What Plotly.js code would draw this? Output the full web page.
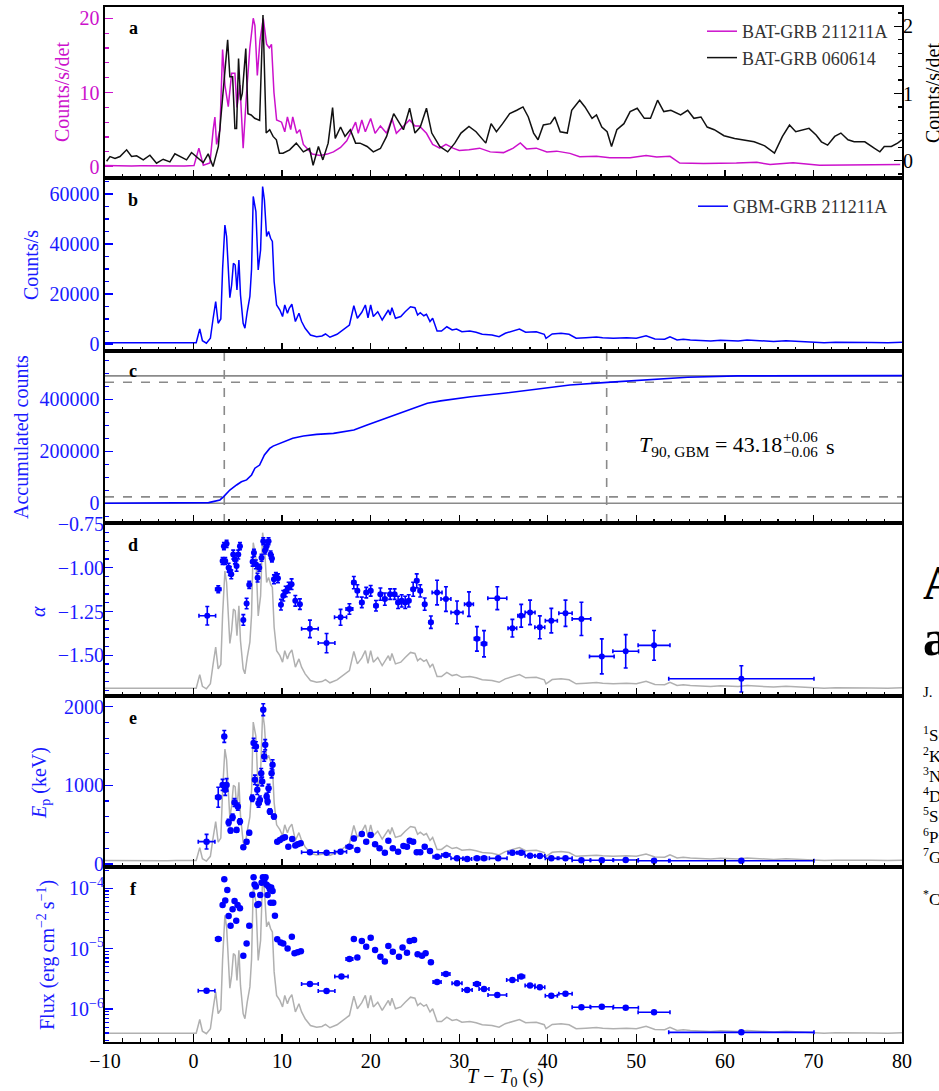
<!DOCTYPE html>
<html>
<head>
<meta charset="utf-8">
<script src="https://cdn.plot.ly/plotly-3.0.1.min.js"></script>
<style>
  html, body { margin: 0; padding: 0; background: #fff; }
  #chart { width: 939px; height: 1091px; }
</style>
</head>
<body>
<div id="chart"></div>
<script>
// ---------- panel a: Swift/BAT light curves ----------
const tBat211 = [-10,-9,-8,-7,-6,-5,-4,-3,-2,-1,0.05,0.6,1.1,1.85,2.22,2.41,2.6,2.98,3.28,3.54,3.92,4.3,4.67,4.9,5.24,5.6,5.99,6.36,6.74,6.93,7.2,7.5,7.87,8.25,8.55,8.8,9.08,9.38,9.94,10.3,10.6,10.97,11.2,11.65,12.0,12.4,12.8,13.4,14.3,15.1,15.8,16.6,17.3,17.9,18.3,18.6,19.0,19.4,20.0,20.5,21.1,21.8,22.4,22.9,23.7,24.4,25.0,25.5,26.3,27.0,27.8,28.5,29.3,30.0,31.1,32.3,33.5,35.0,36.1,36.9,37.6,38.7,39.9,41.0,42.5,43.6,45.5,47.0,49.3,51.1,52.3,53.8,54.9,57.6,61.3,63.6,65.1,67.7,70.7,74.5,79.8];
const bat211 = [0.15,0.1,0.15,0.1,0.12,0.1,0.15,0.1,0.12,0.1,0.15,2.5,0.2,0.5,5,6.7,3,5,15.8,11,8.1,12.6,12.6,8,11,2.5,10,16,20,19,12.3,17,20,16.5,16,16.5,10,6.3,6,4.7,6.7,5,6.7,4.5,5,3,2.5,1.7,1.5,1.7,2,2.6,3.5,5,6,4.5,6.3,4.7,6.5,4.5,5.5,4.5,6.5,4.5,5.5,6.3,5.5,5.5,4.5,3,2.5,3,2.5,2.2,2.3,2.5,2.0,1.9,2.5,3.2,2.4,2.5,2.0,2.1,1.8,1.35,1.4,1.2,1.2,1.5,1.3,1.4,0.5,0.45,0.5,0.6,0.3,0.55,0.2,0.2,0.3];

const tBat060 = [-9.82,-9.44,-8.87,-8.31,-7.56,-7.0,-6.43,-5.68,-4.93,-4.18,-3.43,-2.67,-2.11,-1.55,-0.79,-0.23,0.33,1.09,1.65,2.2,2.8,3.36,3.85,4.1,4.41,4.67,4.86,5.08,5.31,5.5,5.9,6.14,6.5,6.9,7.46,7.84,8.03,8.2,8.6,8.98,9.35,9.7,10.1,10.85,11.6,12.4,13.1,13.5,14.1,14.6,15.2,15.7,16.0,16.6,17.1,17.7,18.3,18.8,19.6,20.3,21.1,21.8,22.6,23.1,23.7,24.4,25.0,25.6,26.3,26.9,27.8,28.7,29.5,30.2,31.1,31.9,32.6,33.0,33.6,34.2,34.9,35.7,36.5,37.2,37.8,38.4,38.9,39.5,40.3,40.8,41.4,42.2,42.7,43.6,44.2,45.0,45.5,46.1,46.7,47.2,47.8,48.6,49.3,50.1,50.9,51.6,52.4,53.1,53.9,55.0,55.8,56.5,57.3,58.0,58.8,59.9,61.1,62.2,63.3,64.5,65.6,66.5,67.3,68.0,68.8,69.5,70.3,70.9,71.6,72.4,73.1,73.9,74.6,75.8,76.9,77.5,78.0,78.8,79.5,80.0];
const bat060 = [-0.01,0.06,0.03,0.06,0.16,0.06,0.07,0.01,0.08,-0.04,0.02,-0.02,0.10,0.06,0.01,0.12,0.06,-0.03,0.10,-0.09,0.21,1.05,1.80,1.25,1.25,0.48,0.48,1.52,0.90,1.0,1.67,0.70,0.68,0.63,0.60,2.17,1.2,0.41,0.46,0.36,0.31,0.11,0.11,0.16,0.26,0.13,0.18,-0.07,0.21,0.01,0.26,0.79,0.33,0.50,0.36,0.46,0.26,0.26,0.21,0.13,0.18,0.36,0.70,0.60,0.46,0.78,0.41,0.50,0.78,0.41,0.21,0.13,0.26,0.41,0.51,0.43,0.33,0.26,0.55,0.43,0.55,0.70,0.75,0.80,0.65,0.41,0.31,0.53,0.55,0.65,0.43,0.41,0.75,0.90,0.80,0.63,0.68,0.50,0.43,0.21,0.46,0.55,0.73,0.78,0.63,0.63,0.90,0.73,0.75,0.68,0.75,0.63,0.65,0.50,0.46,0.37,0.33,0.31,0.28,0.22,0.11,0.36,0.53,0.43,0.46,0.48,0.38,0.28,0.23,0.36,0.41,0.31,0.28,0.28,0.18,0.13,0.21,0.21,0.26,0.31];

// ---------- panel b: Fermi/GBM light curve (also the grey reference curve in d-f) ----------
const tGbm = [-10,-9,-8,-7,-6,-5,-4,-3,-2,-1,0,0.3,0.7,1.0,1.45,1.9,2.2,2.5,2.78,3.08,3.28,3.54,3.73,3.92,4.1,4.3,4.5,4.7,4.9,5.12,5.3,5.6,5.8,6.06,6.36,6.55,6.74,7.04,7.3,7.57,7.8,8.0,8.25,8.47,8.7,8.9,9.1,9.38,9.75,10.05,10.3,10.6,10.8,11.1,11.5,11.9,12.2,12.6,13.2,13.9,14.5,14.9,15.4,16.2,16.9,17.6,18.1,18.5,19.0,19.4,19.7,20.0,20.3,20.8,21.3,22.0,22.2,22.4,22.8,23.4,23.9,24.5,25.0,25.3,25.6,26.0,26.3,26.7,27.0,27.5,28.0,28.6,29.2,29.7,30.3,31.2,31.9,32.6,33.7,34.5,35.2,36.0,36.8,37.5,38.7,39.6,39.8,40.5,41.5,42.4,43.2,44.3,45.5,46.2,47.4,48.9,50.0,51.1,52.1,53.2,53.8,54.6,55.3,56.1,57.2,58.4,59.5,60.6,61.5,62.5,63.5,64.4,65.5,66.9,68.0,69.0,70.0,71.2,72.5,74.6,76.5,78.4,80.0];
const gbmRate = [500,450,550,480,520,470,530,490,510,480,500,520,6000,1300,300,2300,10000,17000,8300,10000,30000,47600,43000,27600,18500,23600,32300,31600,21600,33600,19600,8300,6300,12900,19000,30000,59000,53000,29600,37600,63000,57600,43000,45000,42300,41000,25000,15600,13600,11000,15600,12300,14300,15900,9000,12300,9000,6300,3600,2900,3200,4000,2700,3900,5600,7600,15300,10300,12700,15600,10500,15600,11000,12900,9600,13600,11600,14500,10300,11000,12900,14900,14500,11600,12500,11300,11900,9000,10300,5200,5200,6900,5600,6000,4900,5200,4700,3900,3600,2900,4300,5200,6000,4700,4900,3900,2300,4000,4300,3900,2300,2500,2800,2500,2300,2500,2300,3300,2000,1900,2900,1600,1900,1600,1400,1200,1500,1300,1200,1600,1400,1200,1000,1300,1100,900,800,500,700,500,600,500,700];

// ---------- panel c: accumulated GBM counts and T90 ----------
const tAcc = [-10,0,1,1.7,2.2,2.98,3.4,4.1,4.86,5.4,5.99,6.55,6.93,7.46,8.0,8.6,8.98,9.9,11.2,12.4,13.9,15.8,17.3,18.1,19.6,21.5,23.4,25.3,26.4,27.9,30.2,31.3,35.0,38.8,42.5,46.7,52.0,55.8,61.4,80];
const accCounts = [0,800,2000,2500,6400,12800,25600,51000,70500,83000,90000,109000,135000,147000,186000,211000,220000,233000,250000,259000,265000,269000,276000,282000,301000,324000,346000,372000,385000,394000,404000,410000,423000,438000,455000,465000,477000,485000,490000,491000];
const accTotal = 490000;
const t05 = 3.47;       // start of the T90 interval (s)
const t90 = 43.18;      // T90 duration (s)
const t90Err = 0.06;

// ---------- panel d: low-energy photon index ----------
const tAlpha = [1.55,2.79,3.28,3.43,3.58,3.73,3.96,4.10,4.26,4.48,4.67,4.86,5.05,5.24,5.62,5.99,6.29,6.67,6.82,7.04,7.23,7.42,7.68,7.87,8.06,8.25,8.47,8.70,8.85,9.08,9.30,9.53,9.87,10.13,10.40,10.74,11.07,11.49,12.01,13.14,15.02,16.60,17.60,18.10,18.50,19.00,19.50,20.00,20.60,21.10,21.60,22.20,22.70,23.10,23.50,23.90,24.30,24.80,25.20,25.60,26.10,26.80,27.50,28.50,29.75,31.10,32.00,32.80,34.30,36.00,37.00,38.00,39.10,40.40,42.00,43.80,46.10,48.80,52.00,61.86];
const tAlphaErr = [0.94,0.30,0.1,0.1,0.1,0.1,0.1,0.1,0.1,0.1,0.1,0.1,0.1,0.1,0.1,0.1,0.1,0.1,0.1,0.1,0.1,0.1,0.1,0.1,0.1,0.1,0.1,0.1,0.1,0.1,0.1,0.1,0.1,0.1,0.1,0.1,0.1,0.1,0.1,0.94,0.94,0.68,0.38,0.2,0.2,0.2,0.2,0.2,0.2,0.2,0.2,0.2,0.2,0.2,0.2,0.2,0.2,0.2,0.2,0.2,0.2,0.2,0.56,0.56,0.68,0.5,0.3,0.3,1.07,0.49,0.38,0.56,0.56,0.68,0.75,1.05,1.39,1.45,1.8,8.2];
const alpha = [-1.274,-1.123,-0.962,-0.877,-0.962,-0.864,-1.000,-1.019,-1.038,-0.925,-0.953,-0.990,-0.925,-0.877,-1.298,-1.204,-1.098,-0.966,-0.915,-0.981,-1.057,-1.000,-0.943,-0.849,-0.902,-0.877,-0.849,-0.925,-0.947,-1.066,-1.047,-1.060,-1.211,-1.160,-1.136,-1.113,-1.094,-1.189,-1.208,-1.349,-1.430,-1.283,-1.236,-1.085,-1.132,-1.198,-1.142,-1.132,-1.217,-1.151,-1.179,-1.151,-1.151,-1.198,-1.189,-1.198,-1.189,-1.123,-1.075,-1.132,-1.208,-1.311,-1.142,-1.179,-1.255,-1.208,-1.406,-1.434,-1.174,-1.345,-1.274,-1.255,-1.340,-1.302,-1.260,-1.292,-1.506,-1.477,-1.443,-1.634];
const alphaErr = [0.053,0.02,0.02,0.02,0.02,0.02,0.025,0.025,0.025,0.025,0.025,0.03,0.025,0.02,0.03,0.03,0.02,0.025,0.02,0.025,0.025,0.02,0.02,0.02,0.02,0.02,0.02,0.02,0.02,0.025,0.02,0.025,0.03,0.03,0.03,0.03,0.03,0.03,0.03,0.05,0.055,0.045,0.03,0.035,0.035,0.03,0.03,0.03,0.03,0.035,0.035,0.03,0.03,0.035,0.035,0.035,0.035,0.04,0.04,0.035,0.035,0.035,0.07,0.07,0.065,0.07,0.07,0.075,0.065,0.05,0.065,0.07,0.065,0.07,0.075,0.095,0.1,0.095,0.085,0.075];

// ---------- panel e: peak energy ----------
const tEp = [1.47,2.79,3.28,3.47,3.58,3.73,3.96,4.18,4.41,4.63,4.86,5.00,5.24,5.62,5.99,6.29,6.63,6.78,6.93,7.04,7.19,7.34,7.49,7.64,7.75,7.87,7.98,8.09,8.25,8.36,8.47,8.62,8.81,8.92,9.08,9.45,9.75,10.05,10.32,10.70,11.14,11.49,11.75,12.09,13.14,15.02,16.60,17.60,18.10,18.50,19.00,19.50,20.00,20.50,21.00,21.60,22.00,22.50,23.10,23.70,24.10,24.40,24.80,25.20,25.60,26.10,26.70,27.50,28.50,29.75,30.90,32.00,32.80,34.40,36.00,37.00,38.00,39.10,40.40,42.00,43.80,46.10,48.80,52.00,61.86];
const tEpErr = [0.94,0.30,0.1,0.1,0.1,0.1,0.1,0.1,0.1,0.1,0.1,0.1,0.1,0.1,0.1,0.1,0.1,0.1,0.1,0.1,0.1,0.1,0.1,0.1,0.1,0.1,0.1,0.1,0.1,0.1,0.1,0.1,0.1,0.1,0.1,0.1,0.1,0.1,0.1,0.1,0.1,0.1,0.1,0.1,0.94,0.94,0.68,0.38,0.2,0.2,0.2,0.2,0.2,0.2,0.2,0.2,0.2,0.2,0.2,0.2,0.2,0.2,0.2,0.2,0.2,0.2,0.2,0.45,0.45,0.68,0.5,0.3,0.3,1.0,0.49,0.38,0.56,0.56,0.68,0.75,1.05,1.32,1.43,1.8,8.2];
const ep = [284,849,1006,1622,943,1006,527,425,594,781,433,730,539,212,284,399,836,1537,1070,1495,943,773,815,1155,1049,1962,1367,1516,858,794,964,667,1155,1261,603,284,306,327,340,221,318,234,250,263,149,144,157,221,323,178,382,284,369,250,200,144,297,200,157,229,221,297,284,149,149,221,166,93,115,72,64,72,72,72,144,144,106,102,72,72,47,47,51,42,42];
const epErr = [93,127,70,75,70,80,40,30,40,50,30,45,35,20,25,25,40,60,60,60,60,50,50,60,55,75,60,65,40,40,50,35,60,65,30,20,20,20,20,15,20,15,15,15,15,15,15,15,25,12,20,15,20,15,12,12,15,12,12,12,12,15,15,12,12,12,12,10,10,10,10,10,10,10,12,12,10,10,10,10,8,8,8,8,8];

// ---------- panel f: energy flux ----------
const tFlux = [1.47,2.79,3.28,3.47,3.58,3.81,3.96,4.18,4.41,4.63,4.82,4.97,5.24,5.62,5.99,6.29,6.63,6.78,6.89,7.04,7.19,7.34,7.53,7.68,7.83,7.98,8.13,8.25,8.36,8.47,8.62,8.77,8.92,8.70,9.00,9.19,9.45,9.83,10.13,10.62,11.10,11.40,11.75,12.12,13.14,15.02,16.70,17.60,18.10,18.50,19.00,19.50,20.00,20.50,21.10,21.60,22.00,22.50,23.20,23.60,24.10,24.40,24.90,25.30,25.80,26.20,26.80,27.50,28.50,29.75,30.90,32.00,32.80,34.30,36.00,37.00,38.00,39.10,40.40,42.00,43.80,46.10,48.80,52.00,61.86];
const tFluxErr = [0.94,0.30,0.1,0.1,0.1,0.1,0.1,0.1,0.1,0.1,0.1,0.1,0.1,0.1,0.1,0.1,0.1,0.1,0.1,0.1,0.1,0.1,0.1,0.1,0.1,0.1,0.1,0.1,0.1,0.1,0.1,0.1,0.1,0.1,0.1,0.1,0.1,0.1,0.1,0.1,0.1,0.1,0.1,0.1,0.94,0.94,0.75,0.38,0.2,0.2,0.2,0.2,0.2,0.2,0.2,0.2,0.2,0.2,0.2,0.2,0.2,0.2,0.2,0.2,0.2,0.2,0.2,0.45,0.45,0.56,0.56,0.38,0.56,1.05,0.64,0.38,0.56,0.56,0.68,0.75,1.05,1.32,1.43,1.8,8.2];
const flux = [2.01e-6,1.45e-5,5.30e-5,1.41e-4,6.25e-5,9.38e-5,3.48e-5,2.40e-5,4.49e-5,6.17e-5,2.91e-5,5.30e-5,4.67e-5,7.66e-6,1.22e-5,2.40e-5,7.85e-5,1.52e-4,1.16e-4,1.07e-4,5.30e-5,5.50e-5,7.76e-5,1.24e-4,1.52e-4,1.34e-4,1.52e-4,1.14e-4,7.76e-5,1.07e-4,9.62e-5,1.03e-4,9.04e-5,5.78e-5,5.78e-5,3.52e-5,1.43e-5,1.26e-5,1.22e-5,1.01e-5,1.58e-5,8.38e-6,8.69e-6,9.03e-6,2.59e-6,1.99e-6,3.44e-6,6.75e-6,1.45e-5,7.10e-6,1.34e-5,1.08e-5,1.52e-5,9.51e-6,7.36e-6,6.10e-6,1.11e-5,8.91e-6,7.36e-6,1.04e-5,8.59e-6,1.34e-5,1.39e-5,8.05e-6,7.66e-6,8.38e-6,5.93e-6,2.81e-6,3.80e-6,2.66e-6,2.07e-6,2.59e-6,2.14e-6,1.71e-6,3.03e-6,3.44e-6,2.44e-6,2.29e-6,1.66e-6,1.79e-6,1.07e-6,1.09e-6,1.05e-6,8.81e-7,4.10e-7];

// log-axis ticks for the flux panel
const fluxTickVals = [1e-6, 1e-5, 1e-4];
const fluxTickText = ['10<sup>\u22126</sup>', '10<sup>\u22125</sup>', '10<sup>\u22124</sup>'];
const fluxMinorVals = [3e-7,4e-7,5e-7,6e-7,7e-7,8e-7,9e-7,2e-6,3e-6,4e-6,5e-6,6e-6,7e-6,8e-6,9e-6,2e-5,3e-5,4e-5,5e-5,6e-5,7e-5,8e-5,9e-5,2e-4];

// ---------- styling ----------
const SERIF = 'Liberation Serif, Times New Roman, serif';
const MAG = '#cc11cc';
const BLUE = '#0000ff';
const TXTBLUE = '#1a1aff';
const GRAY = '#b0b0b0';
const REFGRAY = '#8a8a8a';

// pixel frame of the stacked plots
const L = 105, R = 902, T = 7, B = 1042;
const px2x = p => (p - L) / (R - L);
const py2y = p => (B - p) / (B - T);
const bounds = [7, 178, 351, 523, 696, 867, 1042];   // panel edges a..f
const dom = i => [py2y(bounds[i + 1]), py2y(bounds[i])];

const frame = { showline: true, linecolor: '#000', linewidth: 1.6, mirror: true, zeroline: false, showgrid: false };
const tickBase = { ticks: 'inside', ticklen: 8, tickwidth: 1.3 };

function xAxis(i, showLabels) {
  return Object.assign({}, frame, tickBase, {
    domain: [0, 1], range: [-10, 80], tick0: 0, dtick: 10, tickcolor: '#000',
    anchor: i === 0 ? 'y' : 'y' + (i + 1),
    showticklabels: showLabels,
    tickfont: { family: SERIF, size: 20, color: '#000' },
    minor: { dtick: 2, ticks: 'inside', ticklen: 4, tickwidth: 1.2, tickcolor: '#000' }
  });
}
function dataY(color, extra) {
  return Object.assign({}, tickBase, {
    showgrid: false, zeroline: false, tickcolor: color,
    tickfont: { family: SERIF, size: 20, color: color }
  }, extra);
}

const traces = [
  { x: tBat211, y: bat211, xaxis: 'x', yaxis: 'y', type: 'scatter', mode: 'lines',
    line: { color: MAG, width: 1.5 }, name: 'BAT-GRB 211211A', legend: 'legend' },
  { x: tBat060, y: bat060, xaxis: 'x', yaxis: 'y7', type: 'scatter', mode: 'lines',
    line: { color: '#111', width: 1.5 }, name: 'BAT-GRB 060614', legend: 'legend' },
  { x: tGbm, y: gbmRate, xaxis: 'x2', yaxis: 'y2', type: 'scatter', mode: 'lines',
    line: { color: BLUE, width: 1.5 }, name: 'GBM-GRB 211211A', legend: 'legend2' },
  { x: tAcc, y: accCounts, xaxis: 'x3', yaxis: 'y3', type: 'scatter', mode: 'lines',
    line: { color: BLUE, width: 1.6 }, showlegend: false },
  // grey light curve behind the spectral parameters
  { x: tGbm, y: gbmRate, xaxis: 'x4', yaxis: 'y4', type: 'scatter', mode: 'lines',
    line: { color: GRAY, width: 1.5 }, showlegend: false },
  { x: tGbm, y: gbmRate, xaxis: 'x5', yaxis: 'y5', type: 'scatter', mode: 'lines',
    line: { color: GRAY, width: 1.5 }, showlegend: false },
  { x: tGbm, y: gbmRate, xaxis: 'x6', yaxis: 'y6', type: 'scatter', mode: 'lines',
    line: { color: GRAY, width: 1.5 }, showlegend: false },
  { x: tAlpha, y: alpha, xaxis: 'x4', yaxis: 'y8', type: 'scatter', mode: 'markers',
    marker: { color: BLUE, size: 6 }, showlegend: false,
    error_x: { type: 'data', array: tAlphaErr, color: BLUE, thickness: 1.6, width: 2 },
    error_y: { type: 'data', array: alphaErr, color: BLUE, thickness: 1.6, width: 2 } },
  { x: tEp, y: ep, xaxis: 'x5', yaxis: 'y9', type: 'scatter', mode: 'markers',
    marker: { color: BLUE, size: 6.5 }, showlegend: false,
    error_x: { type: 'data', array: tEpErr, color: BLUE, thickness: 1.6, width: 2 },
    error_y: { type: 'data', array: epErr, color: BLUE, thickness: 1.6, width: 2 } },
  { x: tFlux, y: flux, xaxis: 'x6', yaxis: 'y10', type: 'scatter', mode: 'markers',
    marker: { color: BLUE, size: 6.5 }, showlegend: false,
    error_x: { type: 'data', array: tFluxErr, color: BLUE, thickness: 1.6, width: 2 } }
];

const t95 = t05 + t90;
const shapes = [
  { type: 'line', xref: 'x3 domain', yref: 'y3', x0: 0, x1: 1, y0: 0, y1: 0, layer: 'below', line: { color: REFGRAY, width: 1.6 } },
  { type: 'line', xref: 'x3 domain', yref: 'y3', x0: 0, x1: 1, y0: accTotal, y1: accTotal, layer: 'below', line: { color: REFGRAY, width: 1.6 } },
  { type: 'line', xref: 'x3 domain', yref: 'y3', x0: 0, x1: 1, y0: accTotal * 0.05, y1: accTotal * 0.05, layer: 'below', line: { color: REFGRAY, width: 1.6, dash: 'dash' } },
  { type: 'line', xref: 'x3 domain', yref: 'y3', x0: 0, x1: 1, y0: accTotal * 0.95, y1: accTotal * 0.95, layer: 'below', line: { color: REFGRAY, width: 1.6, dash: 'dash' } },
  { type: 'line', xref: 'x3', yref: 'y3 domain', x0: t05, x1: t05, y0: 0, y1: 1, layer: 'below', line: { color: REFGRAY, width: 1.6, dash: 'dash' } },
  { type: 'line', xref: 'x3', yref: 'y3 domain', x0: t95, x1: t95, y0: 0, y1: 1, layer: 'below', line: { color: REFGRAY, width: 1.6, dash: 'dash' } }
];

function note(text, px, py, opts) {
  return Object.assign({ text: text, xref: 'paper', yref: 'paper', x: px2x(px), y: py2y(py),
    showarrow: false, xanchor: 'center', yanchor: 'middle',
    font: { family: SERIF, size: 20, color: '#000' } }, opts || {});
}
const letterFont = { family: SERIF, size: 18, color: '#000', weight: 'bold' };
const annotations = [
  note('<b>a</b>', 133, 28, { font: letterFont }),
  note('<b>b</b>', 133, 200, { font: letterFont }),
  note('<b>c</b>', 133, 371, { font: letterFont }),
  note('<b>d</b>', 133, 545, { font: letterFont }),
  note('<b>e</b>', 133, 718, { font: letterFont }),
  note('<b>f</b>', 133, 889, { font: letterFont }),
  // axis titles
  note('Counts/s/det', 62, 92, { textangle: -90, font: { family: SERIF, size: 20, color: MAG } }),
  note('Counts/s/det', 933, 93, { textangle: -90, font: { family: SERIF, size: 20, color: '#000' } }),
  note('Counts/s', 31, 265, { textangle: -90, font: { family: SERIF, size: 20, color: TXTBLUE } }),
  note('Accumulated counts', 21, 437, { textangle: -90, font: { family: SERIF, size: 20, color: TXTBLUE } }),
  note('<i>\u03b1</i>', 38, 612, { textangle: -90, font: { family: SERIF, size: 20, color: TXTBLUE } }),
  note('<i>E</i><sub>p</sub> (keV)', 40, 783, { textangle: -90, font: { family: SERIF, size: 20, color: TXTBLUE } }),
  note('Flux (erg\u2009cm<sup>\u22122</sup>\u2009s<sup>\u22121</sup>)', 46, 955, { textangle: -90, font: { family: SERIF, size: 20, color: TXTBLUE } }),
  note('<i>T</i> \u2212 <i>T</i><sub>0</sub> (s)', 505, 1077, { font: { family: SERIF, size: 20, color: '#000' } }),
  // T90 label
  note('<i>T</i><sub>90, GBM</sub> = ' + t90.toFixed(2), 637, 446, { xanchor: 'left', font: { family: SERIF, size: 22, color: '#000' } }),
  note('+' + t90Err.toFixed(2), 781, 437, { xanchor: 'left', font: { family: SERIF, size: 15, color: '#000' } }),
  note('\u2212' + t90Err.toFixed(2), 781, 452, { xanchor: 'left', font: { family: SERIF, size: 15, color: '#000' } }),
  note('s', 824, 446, { xanchor: 'left', font: { family: SERIF, size: 22, color: '#000' } }),
  // neighbouring page text at the right edge
  note('<b>A</b>', 921, 582, { xanchor: 'left', font: { family: SERIF, size: 48, color: '#000' } }),
  note('<b>a</b>', 921, 638, { xanchor: 'left', font: { family: SERIF, size: 50, color: '#000' } }),
  note('J.', 921, 692, { xanchor: 'left', font: { family: SERIF, size: 15, color: '#000' } }),
  note('<sup>1</sup>Sc', 921, 734, { xanchor: 'left', font: { family: SERIF, size: 17, color: '#000' } }),
  note('<sup>2</sup>K', 921, 755, { xanchor: 'left', font: { family: SERIF, size: 17, color: '#000' } }),
  note('<sup>3</sup>N', 921, 775, { xanchor: 'left', font: { family: SERIF, size: 17, color: '#000' } }),
  note('<sup>4</sup>D', 921, 795, { xanchor: 'left', font: { family: SERIF, size: 17, color: '#000' } }),
  note('<sup>5</sup>Sc', 921, 815, { xanchor: 'left', font: { family: SERIF, size: 17, color: '#000' } }),
  note('<sup>6</sup>Pr', 921, 836, { xanchor: 'left', font: { family: SERIF, size: 17, color: '#000' } }),
  note('<sup>7</sup>G', 921, 856, { xanchor: 'left', font: { family: SERIF, size: 17, color: '#000' } }),
  note('<sup>*</sup>C', 921, 898, { xanchor: 'left', font: { family: SERIF, size: 17, color: '#000' } })
];

const layout = {
  width: 939, height: 1091,
  margin: { l: L, r: 939 - R, t: T, b: 1091 - B, pad: 0 },
  paper_bgcolor: '#fff', plot_bgcolor: '#fff',
  font: { family: SERIF, size: 20, color: '#000' },
  showlegend: true,
  legend: { x: px2x(893), xanchor: 'right', y: py2y(13), yanchor: 'top', bgcolor: 'rgba(0,0,0,0)',
            font: { family: SERIF, size: 18, color: '#333' }, itemwidth: 30, tracegroupgap: 0 },
  legend2: { x: px2x(893), xanchor: 'right', y: py2y(188), yanchor: 'top', bgcolor: 'rgba(0,0,0,0)',
             font: { family: SERIF, size: 18, color: '#333' }, itemwidth: 30 },
  xaxis: xAxis(0, false),
  xaxis2: xAxis(1, false),
  xaxis3: xAxis(2, false),
  xaxis4: xAxis(3, false),
  xaxis5: xAxis(4, false),
  xaxis6: xAxis(5, true),
  // a
  yaxis: Object.assign({}, frame, dataY(MAG, { domain: dom(0), anchor: 'x', range: [-1.52, 21.52], tick0: 0, dtick: 10,
    minor: { dtick: 2, ticks: 'inside', ticklen: 4, tickwidth: 1.2, tickcolor: MAG } })),
  yaxis7: dataY('#000', { overlaying: 'y', side: 'right', anchor: 'x', range: [-0.26, 2.29], tick0: 0, dtick: 1, showline: false,
    minor: { dtick: 0.2, ticks: 'inside', ticklen: 4, tickwidth: 1.2, tickcolor: '#000' } }),
  // b
  yaxis2: Object.assign({}, frame, dataY(BLUE, { domain: dom(1), anchor: 'x2', range: [-2800, 66400], tick0: 0, dtick: 20000, tickformat: 'd',
    tickfont: { family: SERIF, size: 20, color: TXTBLUE },
    minor: { dtick: 5000, ticks: 'inside', ticklen: 4, tickwidth: 1.2, tickcolor: BLUE } })),
  // c
  yaxis3: Object.assign({}, frame, dataY(BLUE, { domain: dom(2), anchor: 'x3', range: [-75800, 585800], tick0: 0, dtick: 200000, tickformat: 'd',
    tickfont: { family: SERIF, size: 20, color: TXTBLUE },
    minor: { dtick: 50000, ticks: 'inside', ticklen: 4, tickwidth: 1.2, tickcolor: BLUE } })),
  // d, e, f: hidden count axes for the grey curve, spectral axes overlaid on top
  yaxis4: Object.assign({}, frame, { domain: dom(3), anchor: 'x4', range: [-2600, 66900], ticks: '', showticklabels: false }),
  yaxis5: Object.assign({}, frame, { domain: dom(4), anchor: 'x5', range: [-2200, 70000], ticks: '', showticklabels: false }),
  yaxis6: Object.assign({}, frame, { domain: dom(5), anchor: 'x6', range: [-3000, 66900], ticks: '', showticklabels: false }),
  yaxis8: dataY(BLUE, { overlaying: 'y4', side: 'left', anchor: 'x4', range: [-1.732, -0.745], tick0: -1, dtick: 0.25, tickformat: '.2f',
    showline: false, tickfont: { family: SERIF, size: 20, color: TXTBLUE },
    minor: { dtick: 0.05, ticks: 'inside', ticklen: 4, tickwidth: 1.2, tickcolor: BLUE } }),
  yaxis9: dataY(BLUE, { overlaying: 'y5', side: 'left', anchor: 'x5', range: [-38, 2136], tick0: 0, dtick: 1000,
    showline: false, tickfont: { family: SERIF, size: 20, color: TXTBLUE },
    minor: { dtick: 200, ticks: 'inside', ticklen: 4, tickwidth: 1.2, tickcolor: BLUE } }),
  yaxis10: dataY(BLUE, { overlaying: 'y6', side: 'left', anchor: 'x6', type: 'log', range: [-6.547, -3.647],
    tickmode: 'array', tickvals: fluxTickVals, ticktext: fluxTickText,
    showline: false, tickfont: { family: SERIF, size: 20, color: TXTBLUE },
    minor: { tickmode: 'array', tickvals: fluxMinorVals, ticks: 'inside', ticklen: 4, tickwidth: 1.2, tickcolor: BLUE } }),
  shapes: shapes,
  annotations: annotations
};

Plotly.newPlot('chart', traces, layout, { displayModeBar: false, staticPlot: true });
</script>
</body>
</html>
